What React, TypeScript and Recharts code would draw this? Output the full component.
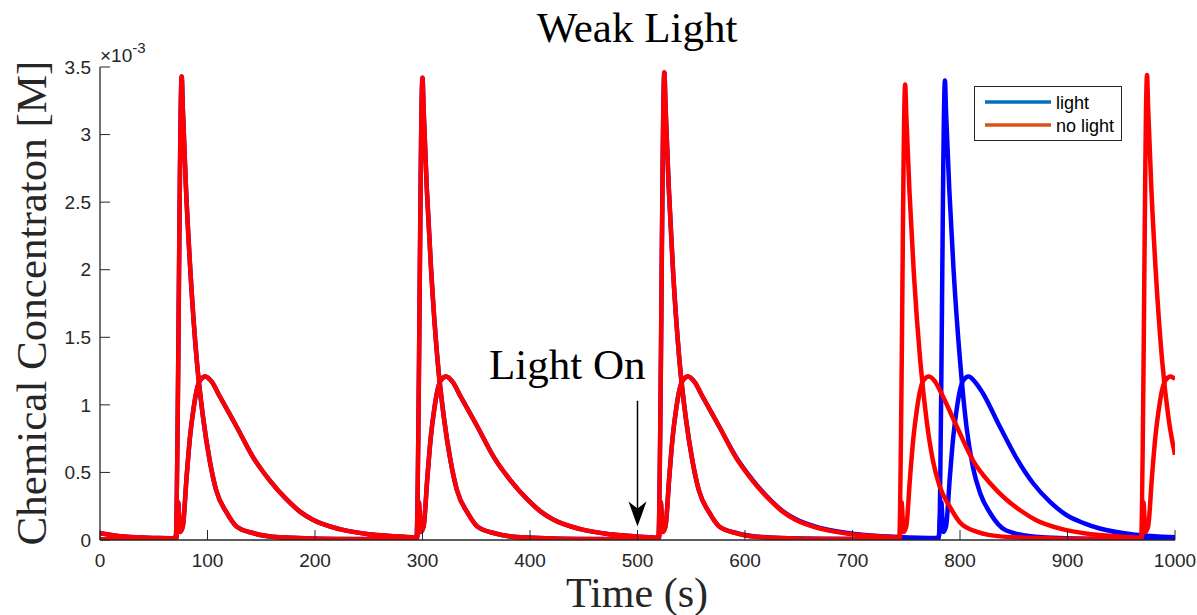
import React from 'react'
import {
  LineChart,
  Line,
  XAxis,
  YAxis,
  ReferenceLine,
  ReferenceDot,
} from 'recharts'

type Pt = [number, number]

// time [s], concentration [x10^-3 M]
const timeTicks = [0, 100, 200, 300, 400, 500, 600, 700, 800, 900, 1000]
const concTicks = [0, 0.5, 1, 1.5, 2, 2.5, 3, 3.5]

// spiking species, identical in both runs until after the third spike
const fastCommon: Pt[] = [
  [0, 0.005], [68, 0.008], [70.5, 0.03], [76, 3.43], [77, 3.2], [80, 2.6], [84, 2.0], [90, 1.33], [96, 0.9],
  [102, 0.59], [108, 0.37], [118, 0.2], [127, 0.1], [143, 0.05], [167, 0.02], [220, 0.008], [292, 0.005],
  [294.5, 0.03], [300, 3.42], [301, 3.19], [304, 2.6], [308, 2.0], [314, 1.33], [320, 0.9], [326, 0.59],
  [332, 0.37], [342, 0.2], [351, 0.1], [367, 0.05], [391, 0.02], [444, 0.008], [517, 0.005],
  [519.5, 0.03], [525, 3.46], [526, 3.22], [529, 2.62], [533, 2.0], [539, 1.33], [545, 0.9], [551, 0.59],
  [557, 0.37], [567, 0.2], [576, 0.1],
]

const noLightFastLate: Pt[] = [
  [592, 0.05], [616, 0.02], [669, 0.008], [741, 0.005],
  [743.5, 0.03], [749, 3.37], [750, 3.15], [753, 2.58], [757, 1.98], [763, 1.33], [769, 0.88], [775, 0.58],
  [781, 0.4], [791, 0.24], [800, 0.13], [816, 0.06], [840, 0.025], [893, 0.01], [966, 0.005],
  [968.5, 0.03], [974, 3.44], [975, 3.2], [978, 2.6], [982, 2.0], [988, 1.33], [994, 0.9], [1000, 0.63],
]

const lightFastLate: Pt[] = [
  [592, 0.052], [616, 0.022], [669, 0.009], [740, 0.006], [778, 0.005],
  [780.5, 0.03], [786, 3.4], [787, 3.17], [790, 2.6], [794, 2.0], [800, 1.33], [806, 0.84], [812, 0.54],
  [818.6, 0.35], [828, 0.2], [843, 0.07], [870, 0.025], [920, 0.01], [1000, 0.005],
]

// slower species following each spike
const slowCommon: Pt[] = [
  [0, 0.05], [15, 0.032], [35, 0.02], [55, 0.014], [71, 0.012],
  [72.6, 0.28], [74.5, 0.06], [77, 0.1], [80.6, 0.47], [83.7, 0.76], [86.8, 0.96], [90, 1.11], [93, 1.18],
  [98, 1.21], [104, 1.17], [111.6, 1.06], [127, 0.84], [142.6, 0.61], [158, 0.44], [173.6, 0.3], [186, 0.21],
  [198, 0.15], [223, 0.08], [253, 0.04], [293, 0.017], [295, 0.015],
  [296.6, 0.28], [298.5, 0.06], [301, 0.1], [304.6, 0.47], [307.7, 0.76], [310.8, 0.96], [314, 1.11],
  [317, 1.18], [322, 1.21], [328, 1.17], [335.6, 1.06], [351, 0.84], [366.6, 0.61], [382, 0.44],
  [397.6, 0.3], [410, 0.21], [422, 0.15], [447, 0.08], [477, 0.04], [517, 0.017], [520, 0.015],
  [521.6, 0.28], [523.5, 0.06], [526, 0.1], [529.6, 0.47], [532.7, 0.76], [535.8, 0.96], [539, 1.11],
  [542, 1.18], [547, 1.21], [553, 1.17], [560.6, 1.06], [576, 0.84],
]

const noLightSlowLate: Pt[] = [
  [591.6, 0.61], [607, 0.44], [622.6, 0.3], [635, 0.21], [647, 0.15], [672, 0.08], [702, 0.04],
  [742, 0.017], [744, 0.015],
  [745.6, 0.28], [747.5, 0.06], [750, 0.1], [753.6, 0.47], [756.7, 0.76], [759.8, 0.96], [763, 1.11],
  [766, 1.18], [771, 1.21], [777, 1.17], [783, 1.08], [797, 0.84], [812, 0.59], [828, 0.42], [843, 0.3],
  [856, 0.22], [870, 0.15], [895, 0.08], [925, 0.04], [966, 0.017], [969, 0.015],
  [970.6, 0.28], [972.5, 0.06], [975, 0.1], [978.6, 0.47], [981.7, 0.76], [984.8, 0.96], [988, 1.11],
  [991, 1.18], [996, 1.21], [1000, 1.19],
]

const lightSlowLate: Pt[] = [
  [591.6, 0.615], [607, 0.445], [622.6, 0.305], [635, 0.215], [647, 0.155], [672, 0.085], [702, 0.045],
  [742, 0.022], [780, 0.014],
  [782.6, 0.28], [784.5, 0.06], [787, 0.1], [790.6, 0.47], [793.7, 0.76], [796.8, 0.96], [800, 1.11],
  [803, 1.18], [808, 1.21], [814, 1.17], [821, 1.09], [837, 0.84], [853, 0.6], [868, 0.42], [884, 0.28],
  [899, 0.185], [915, 0.125], [930, 0.085], [961, 0.04], [1000, 0.02],
]

// light switched on at t = 500 s
const lightOnTime = 500
const arrowTop = 1.03
const arrowTip = 0.1

const legendItems = [
  { label: 'light', color: '#0072BD' },
  { label: 'no light', color: '#D95319' },
]

const toRows = (pts: Pt[]) => pts.map(([t, v]) => ({ t, v }))

const lightFast = toRows([...fastCommon, ...lightFastLate])
const lightSlow = toRows([...slowCommon, ...lightSlowLate])
const noLightFast = toRows([...fastCommon, ...noLightFastLate])
const noLightSlow = toRows([...slowCommon, ...noLightSlowLate])

const W = 1197
const H = 615
const AXIS = '#262626'
const TICK_LEN = 10
const X_GAP = 14
const Y_GAP = 9
const LINE_W = 4.5
const SANS = '"Liberation Sans", Arial, sans-serif'
const SERIF = '"Liberation Serif", "Times New Roman", serif'

const TimeTick = ({ x, y, payload }: any) => (
  <g>
    <line x1={x} x2={x} y1={y - X_GAP} y2={y - X_GAP - TICK_LEN} stroke={AXIS} strokeWidth={1} />
    <text x={x} y={y} dy="0.71em" textAnchor="middle" fontFamily={SANS} fontSize={19} fill={AXIS}>
      {payload.value}
    </text>
  </g>
)

const ConcTick = ({ x, y, payload }: any) => (
  <g>
    <line x1={x + Y_GAP} x2={x + Y_GAP + TICK_LEN} y1={y} y2={y} stroke={AXIS} strokeWidth={1} />
    <text x={x} y={y} dy="0.355em" textAnchor="end" fontFamily={SANS} fontSize={19} fill={AXIS}>
      {payload.value}
    </text>
  </g>
)

const ArrowHead = ({ cx, cy }: any) => (
  <path
    d={`M${cx},${cy} L${cx - 9},${cy - 25} L${cx},${cy - 18} L${cx + 9},${cy - 25} Z`}
    fill="#000"
  />
)

const LightOnText = ({ cx, cy }: any) => (
  <text x={cx + 8} y={cy - 22} textAnchor="end" fontFamily={SERIF} fontSize={43} fill="#000">
    Light On
  </text>
)

export default function App() {
  return (
    <div style={{ position: 'absolute', left: 0, top: 0, width: W, height: H, background: '#fff' }}>
      <LineChart width={W} height={H} margin={{ top: 67, right: 22, left: 40, bottom: 15 }}>
        <XAxis
          type="number"
          dataKey="t"
          domain={[0, 1000]}
          ticks={timeTicks}
          allowDataOverflow
          height={60}
          tickSize={0}
          tickMargin={X_GAP}
          tickLine={false}
          axisLine={{ stroke: AXIS, strokeWidth: 1.3 }}
          tick={<TimeTick />}
        />
        <YAxis
          type="number"
          domain={[0, 3.5]}
          ticks={concTicks}
          allowDataOverflow
          width={60}
          tickSize={0}
          tickMargin={Y_GAP}
          tickLine={false}
          axisLine={{ stroke: AXIS, strokeWidth: 1.3 }}
          tick={<ConcTick />}
        />
        <Line data={lightFast} dataKey="v" type="monotone" stroke="#0000FF" strokeWidth={LINE_W} dot={false} isAnimationActive={false} />
        <Line data={lightSlow} dataKey="v" type="monotone" stroke="#0000FF" strokeWidth={LINE_W} dot={false} isAnimationActive={false} />
        <Line data={noLightFast} dataKey="v" type="monotone" stroke="#FF0000" strokeWidth={LINE_W} dot={false} isAnimationActive={false} />
        <Line data={noLightSlow} dataKey="v" type="monotone" stroke="#FF0000" strokeWidth={LINE_W} dot={false} isAnimationActive={false} />
        <ReferenceLine
          segment={[{ x: lightOnTime, y: arrowTop }, { x: lightOnTime, y: arrowTip + 0.1 }]}
          stroke="#000"
          strokeWidth={1.5}
        />
        <ReferenceDot x={lightOnTime} y={arrowTip} r={0} shape={<ArrowHead />} />
        <ReferenceDot x={lightOnTime} y={arrowTop} r={0} shape={<LightOnText />} />
      </LineChart>

      <svg width={W} height={H} style={{ position: 'absolute', left: 0, top: 0, pointerEvents: 'none' }}>
        <text x={637} y={42} textAnchor="middle" fontFamily={SERIF} fontSize={43} fill="#000">
          Weak Light
        </text>
        <text x={637} y={607} textAnchor="middle" fontFamily={SERIF} fontSize={42} fill="#262626">
          Time (s)
        </text>
        <text
          transform="translate(46,303) rotate(-90)"
          textAnchor="middle"
          fontFamily={SERIF}
          fontSize={43}
          fill="#262626"
        >
          Chemical Concentraton [M]
        </text>
        <text x={100} y={62} fontFamily={SANS} fontSize={19} fill={AXIS}>
          ×10
          <tspan dy={-9} fontSize={15}>-3</tspan>
        </text>

        <rect x={974.5} y={86.5} width={147} height={54} fill="#fff" stroke={AXIS} strokeWidth={1} />
        {legendItems.map((item, i) => (
          <g key={item.label}>
            <line x1={985} x2={1051} y1={102 + i * 23} y2={102 + i * 23} stroke={item.color} strokeWidth={3.5} />
            <text x={1056} y={109 + i * 23} fontFamily={SANS} fontSize={18} fill="#000">
              {item.label}
            </text>
          </g>
        ))}
      </svg>
    </div>
  )
}
